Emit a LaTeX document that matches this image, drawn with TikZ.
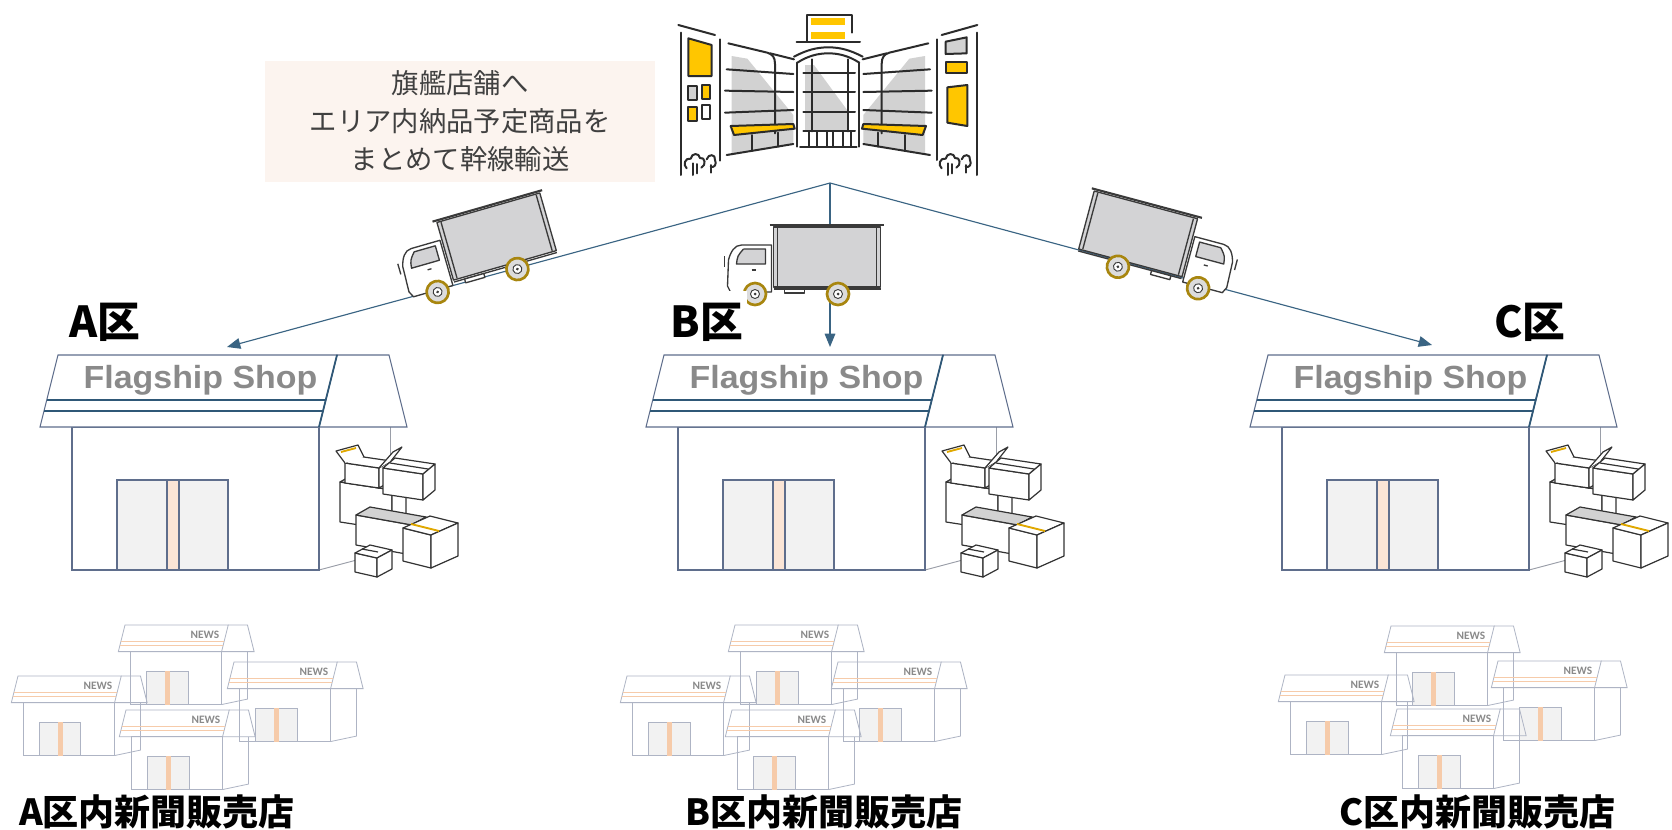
\documentclass[tikz,border=0pt]{standalone}
\usepackage{fontspec}
\newfontfamily\jpfont{Noto Sans CJK JP}
\newfontfamily\shopfont{Liberation Sans}
\newfontfamily\newsfont{Carlito}
\usetikzlibrary{arrows.meta}

\definecolor{connblue}{HTML}{3A6483}
\definecolor{wallcol}{HTML}{5F6E8C}
\definecolor{sidegray}{HTML}{9A9EA8}
\definecolor{signblue}{HTML}{2F5877}
\definecolor{flaggray}{HTML}{8A8A8A}
\definecolor{doorgray}{HTML}{F2F2F2}
\definecolor{doorpeach}{HTML}{FBE5D6}
\definecolor{notefill}{HTML}{FCF4EF}
\definecolor{notetext}{HTML}{404040}
\definecolor{inkdark}{HTML}{2B2B2B}
\definecolor{boxink}{HTML}{333333}
\definecolor{truckink}{HTML}{3A3A3A}
\definecolor{iconyellow}{HTML}{FFC600}
\definecolor{icongray}{HTML}{D2D2D2}
\definecolor{wheelgold}{HTML}{A8860F}
\definecolor{hubgray}{HTML}{DCDCDC}
\definecolor{cargogray}{HTML}{D3D3D5}
\definecolor{newscol}{HTML}{AEB4C4}
\definecolor{newspeach}{HTML}{F6CBAA}
\definecolor{tapeyellow}{HTML}{E0A800}

% left shelf wing of the mall facade (mirrored for the right wing)
\newcommand{\mallwing}{%
  \fill[icongray] (215,168) -- (262,176) -- (400,345) -- (400,432) -- (215,462) -- cycle;
  \draw[iconline] (205,130) -- (322,158) .. controls (338,163) and (345,172) .. (345,192) -- (345,400);
  \draw[iconline] (330,160) -- (402,178);
  \draw[iconline] (200,208) -- (400,222);
  \draw[iconline] (195,272) -- (400,276);
  \draw[iconline] (195,338) -- (400,330);
  \draw[iconline, fill=iconyellow] (212,378) -- (400,372) -- (404,386) -- (222,405) -- cycle;
  \draw[iconline] (200,465) -- (400,432);
  \draw[iconline] (275,405) -- (275,452);
  \draw[iconline] (355,398) -- (355,440);
}
% small bushes at the foot of a side panel
\newcommand{\mallbushes}{%
  \draw[iconline] (80,505) .. controls (68,495) and (75,472) .. (92,476) .. controls (95,458) and (118,458) .. (120,474) .. controls (135,470) and (140,495) .. (124,503);
  \draw[iconline] (98,490) -- (98,525);
  \draw[iconline] (112,492) -- (112,520);
  \draw[iconline] (140,478) .. controls (145,460) and (168,462) .. (165,480) .. controls (172,492) and (162,505) .. (152,500);
  \draw[iconline] (152,495) -- (152,518);
}
% carton: corner x,y; width vector wx,wy; depth dx,rise; height; top fill
\newcommand{\carton}[8]{%
  \draw[boxline, fill=white] (#1,#2) -- ++(#3,#4) -- ++(0,#7) -- ++(-#3,-#4) -- cycle;
  \draw[boxline, fill=#8] (#1,#2) -- ++(#5,-#6) -- ++(#3,#4) -- ++(-#5,#6) -- cycle;
  \draw[boxline, fill=white] (#1+#3,#2+#4) -- ++(#5,-#6) -- ++(0,#7) -- ++(-#5,#6) -- cycle;
}
% stack of parcels beside a flagship shop
\newcommand{\parcelstack}{%
  \carton{340}{482}{52}{8}{14}{8}{40}{icongray}
  \carton{345}{463}{34}{5}{12}{7}{20}{white}
  \draw[boxline, fill=white] (345,463) -- (336,451) -- (358,445) -- (364,457);
  \draw[boxline, fill=white] (379,468) -- (393,452) -- (402,447) -- (391,461);
  \draw[tapeyellow, line width=1.4pt] (341,452) -- (356,448);
  \carton{383}{468}{40}{6}{12}{10}{26}{white}
  \draw[boxline] (390,463) -- (428,469);
  \carton{356}{515}{56}{10}{14}{8}{30}{icongray}
  \carton{403}{528}{28}{7}{27}{12}{33}{white}
  \draw[tapeyellow, line width=1.4pt] (411,524) -- (439,531);
  \carton{355}{553}{22}{5}{15}{8}{19}{white}
  \draw[boxline] (362,549) -- (378,552);
}

\tikzset{
  conn/.style={draw=connblue, line width=0.85pt, -{Triangle[length=10pt,width=8pt]}},
  wallline/.style={draw=wallcol, line width=0.8pt},
  sideline/.style={draw=sidegray, line width=0.7pt},
  signline/.style={draw=signblue, line width=2.1pt},
  roofedge/.style={draw=signblue, line width=1.3pt},
  iconline/.style={draw=inkdark, line width=1.5pt, line cap=round, line join=round},
  boxline/.style={draw=boxink, line width=0.9pt, line join=round},
  truckline/.style={draw=truckink, line width=1pt, line join=round},
  wheelrim/.style={draw=wheelgold, line width=2pt},
  newsline/.style={draw=newscol, line width=0.6pt},
  newssign/.style={draw=newspeach, line width=0.8pt},
  flagtext/.style={anchor=base, text=flaggray, inner sep=0pt,
    font=\shopfont\bfseries\fontsize{24}{24}\selectfont},
  newstext/.style={text=flaggray, inner sep=0pt,
    font=\newsfont\bfseries\fontsize{8.5}{8.5}\selectfont},
  notebox/.style={fill=notefill, minimum width=292pt, minimum height=90.75pt,
    align=center, text=notetext, inner sep=0pt,
    font=\jpfont\fontsize{20.5}{28.5}\selectfont},
  zonelabel/.style={anchor=base, fill=white, inner xsep=3pt, inner ysep=9pt,
    font=\jpfont\bfseries\fontsize{32}{32}\selectfont},
  arealabel/.style={anchor=base, fill=white, inner sep=3pt,
    font=\jpfont\bfseries\fontsize{27}{27}\selectfont},
  pics/flagship/.style={code={
    \draw[sideline] (332,72) -- (332,200);
    \draw[sideline] (261,215) -- (310,202);
    \draw[wallline, fill=white] (14,72) rectangle (261,215);
    \draw[wallline, fill=doorgray] (59,125) rectangle (170,215);
    \draw[wallline, fill=doorpeach] (109,125) rectangle (121,215);
    \draw[wallline, fill=white] (279,0) -- (331,0) -- (349,72) -- (261,72) -- cycle;
    \draw[wallline, fill=white] (0,0) -- (279,0) -- (261,72) -- (-18,72) -- cycle;
    \draw[signline] (-11.25,45) -- (267.75,45);
    \draw[signline] (-14,56) -- (265,56);
    \draw[roofedge] (279,0) -- (261,72);
    \node[flagtext] (-name) at (142.5,33) {\scalebox{1.06}[1]{Flagship Shop}};
  }},
  pics/newsstand/.style={code={
    \draw[newsline] (332,72) -- (332,200);
    \draw[newsline] (261,215) -- (332,200);
    \draw[newsline] (14,72) rectangle (261,215);
    \draw[newsline, fill=doorgray] (59,125) rectangle (170,215);
    \fill[newspeach] (108,125) rectangle (122,215);
    \draw[newsline] (279,0) -- (331,0) -- (349,72) -- (261,72);
    \draw[newsline] (0,0) -- (279,0) -- (261,72) -- (-18,72) -- cycle;
    \draw[newssign] (-11.25,45) -- (267.75,45);
    \draw[newssign] (-14,56) -- (265,56);
    \node[newstext] (-tag) at (216,26) {NEWS};
  }},
  pics/truck/.style={code={
    \draw[truckline, fill=cargogray] (-23,-67) rectangle (84,-7);
    \draw[truckline, line width=1.6pt] (-27,-69) -- (87,-69);
    \draw[truckline] (-19,-66) -- (-19,-8);
    \draw[truckline] (80,-66) -- (80,-8);
    \draw[truckline] (-23,-5) -- (84,-5);
    \draw[truckline, fill=white] (-12,-5) rectangle (8,-1);
    \draw[truckline, fill=white] (-25,-49) -- (-55,-49) .. controls (-62,-49) and (-66,-42) .. (-68,-34) -- (-69,-8) -- (-66,-2) -- (-25,-2) -- cycle;
    \draw[truckline, fill=cargogray] (-53,-45) -- (-31,-45) -- (-31,-30) -- (-60,-30) .. controls (-59,-38) .. (-53,-45);
    \draw[truckline] (-72,-38) -- (-72,-27);
    \draw[truckline] (-45,-24) -- (-41,-24);
    \foreach \wx in {-41.5,41.5}{
      \draw[wheelrim, fill=hubgray] (\wx,0) circle (11);
      \draw[truckline, line width=0.7pt, fill=white] (\wx,0) circle (4.5);
      \fill[truckink] (\wx,0) circle (1.5);
    }
  }}
}

\begin{document}
\begin{tikzpicture}[x=0.75pt, y=-0.75pt]
  \useasboundingbox (0,0) rectangle (1672,829);
  \fill[white] (0,0) rectangle (1672,829);

  % note about the trunk transport
  \node[notebox] (note) at (460,121) {旗艦店舗へ\\エリア内納品予定商品を\\まとめて幹線輸送};

  % connectors from the central mall to the three flagship shops
  \coordinate (hub) at (830,183);
  \coordinate (inA) at (227,347);
  \coordinate (inB) at (830,347);
  \coordinate (inC) at (1432,345);
  \draw[conn] (hub) -- (inA);
  \draw[conn] (hub) -- (inB);
  \draw[conn] (hub) -- (inC);

  % delivery trucks on the routes
  \pic[rotate=16] (truckA) at (477.5,280.5) {truck};
  \pic (truckB) at (796.5,294) {truck};
  \pic[rotate=-15, xscale=-1] (truckC) at (1158,277.5) {truck};

  % central shopping mall
  \begin{scope}[shift={(660,0)}, scale=1/3]
    \draw[iconline] (55,75) -- (165,105);
    \draw[iconline] (62,98) -- (62,525);
    \draw[iconline] (180,118) -- (180,482);
    \draw[iconline, fill=iconyellow] (85,115) -- (155,135) -- (155,228) -- (85,228) -- cycle;
    \draw[iconline, fill=icongray] (85,258) rectangle (110,300);
    \draw[iconline, fill=iconyellow] (125,256) rectangle (150,298);
    \draw[iconline, fill=iconyellow] (85,320) rectangle (110,362);
    \draw[iconline, fill=white] (125,316) rectangle (150,356);
    \mallbushes
    \draw[iconline] (845,105) -- (952,75);
    \draw[iconline] (830,118) -- (830,480);
    \draw[iconline] (950,98) -- (950,525);
    \draw[iconline, fill=icongray] (857,125) -- (920,112) -- (920,160) -- (857,162) -- cycle;
    \draw[iconline, fill=iconyellow] (857,185) rectangle (920,220);
    \draw[iconline, fill=iconyellow] (862,262) -- (922,255) -- (922,378) -- (862,368) -- cycle;
    \begin{scope}[shift={(765,0)}] \mallbushes \end{scope}
    \mallwing
    \begin{scope}[shift={(1010,0)}, xscale=-1] \mallwing \end{scope}
    \fill[icongray] (435,195) -- (462,195) -- (565,335) -- (565,394) -- (435,394) -- cycle;
    \fill[iconyellow] (452,55) rectangle (555,74);
    \fill[iconyellow] (452,97) rectangle (555,118);
    \draw[iconline] (442,122) -- (442,45) -- (575,45) -- (575,98);
    \draw[iconline] (410,126) -- (600,126);
    \draw[iconline] (402,170) .. controls (440,150) and (470,142) .. (505,142) .. controls (540,142) and (570,150) .. (608,170);
    \draw[iconline] (412,188) .. controls (445,167) and (475,160) .. (505,160) .. controls (535,160) and (565,167) .. (598,188);
    \draw[iconline] (412,188) -- (412,440);
    \draw[iconline] (598,188) -- (598,440);
    \draw[iconline] (455,178) -- (455,394);
    \draw[iconline] (565,178) -- (565,394);
    \foreach \gy in {218,276,336,394} \draw[iconline] (430,\gy) -- (585,\gy);
    \foreach \dx in {448,470,500,520,550,572} \draw[iconline] (\dx,394) -- (\dx,440);
    \draw[iconline] (420,440) -- (590,440);
  \end{scope}

  % flagship shops with their parcel stacks
  \pic (shopA) at (58,355) {flagship};
  \pic (shopB) at (664,355) {flagship};
  \pic (shopC) at (1268,355) {flagship};
  \parcelstack
  \begin{scope}[shift={(606,0)}] \parcelstack \end{scope}
  \begin{scope}[shift={(1210,0)}] \parcelstack \end{scope}

  % newspaper outlets of each district
  \pic[scale=0.37] (nA1) at (125,625) {newsstand};
  \pic[scale=0.37] (nA2) at (18,676) {newsstand};
  \pic[scale=0.37] (nA3) at (234,662) {newsstand};
  \pic[scale=0.37] (nA4) at (126,710) {newsstand};
  \pic[scale=0.37] (nB1) at (735,625) {newsstand};
  \pic[scale=0.37] (nB2) at (627,676) {newsstand};
  \pic[scale=0.37] (nB3) at (838,662) {newsstand};
  \pic[scale=0.37] (nB4) at (732,710) {newsstand};
  \pic[scale=0.37] (nC1) at (1391,626) {newsstand};
  \pic[scale=0.37] (nC2) at (1285,675) {newsstand};
  \pic[scale=0.37] (nC3) at (1498,661) {newsstand};
  \pic[scale=0.37] (nC4) at (1397,709) {newsstand};

  % district labels
  \node[zonelabel] (zoneA) at (105,337) {A区};
  \node[zonelabel] (zoneB) at (707,337) {B区};
  \node[zonelabel] (zoneC) at (1530,337) {C区};
  \node[arealabel] (areaA) at (157,825) {A区内新聞販売店};
  \node[arealabel] (areaB) at (824,825) {B区内新聞販売店};
  \node[arealabel] (areaC) at (1477,825) {C区内新聞販売店};
\end{tikzpicture}
\end{document}
